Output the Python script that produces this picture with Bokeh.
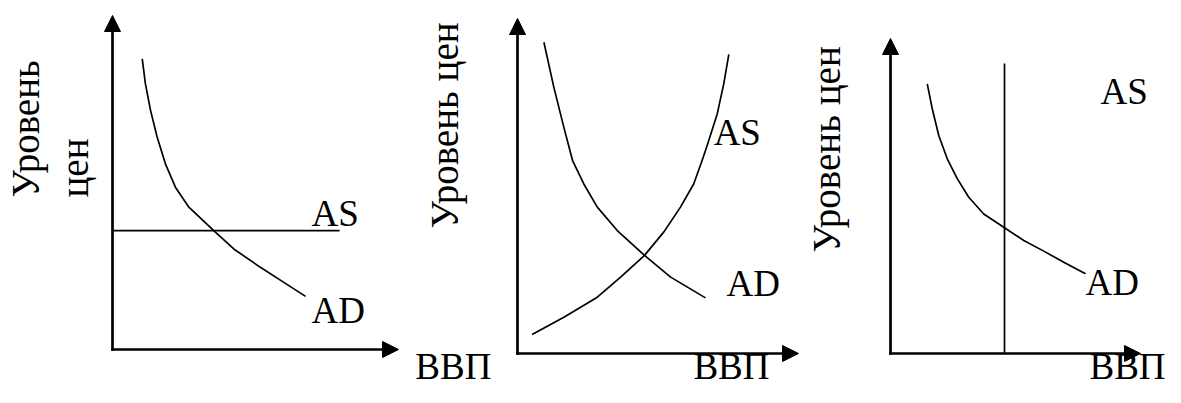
import math
from bokeh.plotting import figure
from bokeh.models import Range1d, Arrow, NormalHead, Label
from bokeh.embed import file_html
from bokeh.resources import INLINE

# ---------------- data (each panel: quantity 0..10, price 0..10) ----------------
AXIS_MAX = 10

# Panel 1: horizontal AS
p1_ad_q = [1.04, 1.15, 1.33, 1.56, 1.85, 2.20, 2.67, 3.54, 4.24, 5.17, 5.99, 6.75]
p1_ad_p = [8.70, 7.96, 7.16, 6.36, 5.56, 4.86, 4.26, 3.56, 3.01, 2.46, 2.01, 1.59]
p1_as_q = [0.0, 7.94]
p1_as_p = [3.56, 3.56]

# Panel 2: upward-sloping AS
p2_ad_q = [0.94, 1.29, 1.65, 1.96, 2.36, 2.84, 3.55, 4.52, 5.45, 6.69]
p2_ad_p = [9.29, 7.96, 6.75, 5.76, 5.06, 4.37, 3.67, 2.93, 2.28, 1.66]
p2_as_q = [0.52, 1.65, 2.84, 3.67, 4.52, 5.21, 5.80, 6.27, 6.57, 6.77, 7.11, 7.34, 7.52]
p2_as_p = [0.57, 1.08, 1.68, 2.28, 2.93, 3.63, 4.37, 5.06, 5.76, 6.26, 7.16, 8.05, 8.93]

# Panel 3: vertical AS
p3_ad_q = [1.47, 1.67, 1.93, 2.27, 2.67, 3.13, 3.73, 4.56, 5.33, 6.13, 6.93, 7.80]
p3_ad_p = [8.56, 7.77, 6.92, 6.18, 5.55, 4.96, 4.43, 3.99, 3.59, 3.25, 2.90, 2.53]
p3_as_q = [4.56, 4.56]
p3_as_p = [0.0, 9.21]

# labels
label_as = "AS"
label_ad = "AD"
label_x = "ВВП"
label_y = "Уровень цен"
label_y1a = "Уровень"
label_y1b = "цен"

# ---------------- layout ----------------
W, H = 1165, 387
panels = {
    "p1": (112, 349, 28.6, 33.4),
    "p2": (517, 353, 28.1, 33.5),
    "p3": (890, 353, 25.0, 31.5),
}

p = figure(width=W, height=H, x_range=Range1d(0, 1), y_range=Range1d(0, 1),
           min_border=0, toolbar_location=None, output_backend="svg")
p.axis.visible = False
p.grid.visible = False
p.outline_line_color = None
p.background_fill_color = "white"
p.border_fill_color = "white"

for name, (ox, oy, sx, sy) in panels.items():
    xs = -ox / sx
    ys = -(H - oy) / sy
    p.extra_x_ranges[name] = Range1d(xs, xs + W / sx)
    p.extra_y_ranges[name] = Range1d(ys, ys + H / sy)

FONT = "Liberation Serif"
LW_AX = 2.7
LW = 1.7
SIZE_H = 37
SIZE_V = 39

for name in panels:
    for (xe, ye) in [(AXIS_MAX, 0), (0, AXIS_MAX)]:
        p.add_layout(Arrow(end=NormalHead(size=16, fill_color="black", line_color="black", line_width=1),
                           x_start=0, y_start=0, x_end=xe, y_end=ye,
                           line_width=LW_AX, line_color="black", line_cap="square",
                           x_range_name=name, y_range_name=name))

def curve(q, pr, name):
    p.line(q, pr, line_color="black", line_width=LW, line_join="round",
           x_range_name=name, y_range_name=name)

curve(p1_ad_q, p1_ad_p, "p1")
curve(p1_as_q, p1_as_p, "p1")
curve(p2_ad_q, p2_ad_p, "p2")
curve(p2_as_q, p2_as_p, "p2")
curve(p3_ad_q, p3_ad_p, "p3")
curve(p3_as_q, p3_as_p, "p3")

def txt(x, y, t, name, rotated=False):
    size = SIZE_V if rotated else SIZE_H
    shift = round(size / 3)  # screen-pixel correction of the alphabetic baseline
    if rotated:
        kw = dict(angle=math.pi / 2, x_offset=-shift, y_offset=0)
    else:
        kw = dict(angle=0.0, x_offset=0, y_offset=shift)
    p.add_layout(Label(x=x, y=y, text=t, text_font=FONT, text_font_size=f"{size}px",
                       text_color="black", text_align="left", text_baseline="alphabetic",
                       x_range_name=name, y_range_name=name, **kw))

# panel 1 labels
txt(6.96, 3.71, label_as, "p1")
txt(6.96, 0.81, label_ad, "p1")
txt(10.59, -0.87, label_x, "p1")
txt(-2.60, 4.55, label_y1a, "p1", rotated=True)
txt(-0.87, 4.55, label_y1b, "p1", rotated=True)

# panel 2 labels
txt(6.98, 6.24, label_as, "p2")
txt(7.44, 1.73, label_ad, "p2")
txt(6.26, -0.75, label_x, "p2")
txt(-2.12, 3.73, label_y, "p2", rotated=True)

# panel 3 labels
txt(8.40, 7.94, label_as, "p3")
txt(7.80, 1.87, label_ad, "p3")
txt(7.96, -0.79, label_x, "p3")
txt(-2.05, 3.21, label_y, "p3", rotated=True)

open("out.html", "w").write(file_html(p, INLINE))
